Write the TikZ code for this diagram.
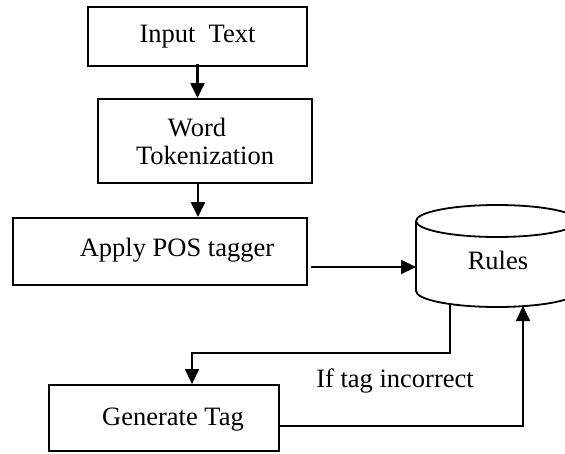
\documentclass[tikz,border=0pt]{standalone}
\usepackage{fontspec}
\setmainfont{Liberation Serif}
\usetikzlibrary{arrows.meta}
\begin{document}
\begin{tikzpicture}[x=1pt,y=-1pt,
  every node/.style={font=\fontsize{26.5}{28}\selectfont},
  stepbox/.style={draw,line width=1.8pt,inner sep=0pt},
  tip/.style={-{Triangle[length=15pt,width=14pt]}},
  arr/.style={line width=2.2pt,tip},
  thin/.style={line width=1.5pt,tip}]
\clip (0,0) rectangle (565,453);
\fill[white] (0,0) rectangle (565,453);
\node[stepbox,minimum width=219pt,minimum height=59pt] (input) at (197.5,36.5) {Input\ \ Text};
\node[stepbox,minimum width=214pt,minimum height=84pt,align=center] (word) at (205,141) {\hspace*{-16pt}Word\\Tokenization};
\node[stepbox,minimum width=294pt,minimum height=67pt,label={[xshift=17pt,yshift=1pt]center:Apply POS tagger}] (apply) at (160,251.5) {};
\node[stepbox,minimum width=230pt,minimum height=66pt,label={[xshift=9pt,yshift=-2pt]center:Generate Tag}] (gen) at (164,418) {};
% Rules cylinder
\draw[line width=1.8pt] (497,221) ellipse [x radius=81, y radius=16];
\draw[line width=1.8pt] (416,221) -- (416,291) arc[start angle=180,end angle=360,x radius=81pt,y radius=16pt] -- (578,221);
\node (rules) at (498,260) {Rules};
\coordinate (rulesW) at (416,267);
\coordinate (rulesB1) at (450,304);
\coordinate (rulesB2) at (523,306);
% connectors
\draw[arr] ([yshift=3pt]input.south) -- (input.south |- word.north);
\draw[arr] ([xshift=-7pt]word.south) -- ([xshift=-7pt]word.south |- apply.north);
\draw[arr] ([xshift=3pt]apply.east |- rulesW) -- (rulesW);
\draw[thin] (rulesB1) -- (rulesB1 |- 0,353) -| ([xshift=28pt]gen.north);
\draw[arr] ([yshift=-8pt]gen.east) -| (rulesB2);
\node (cond) at (395,381) {If tag incorrect};
\end{tikzpicture}
\end{document}
